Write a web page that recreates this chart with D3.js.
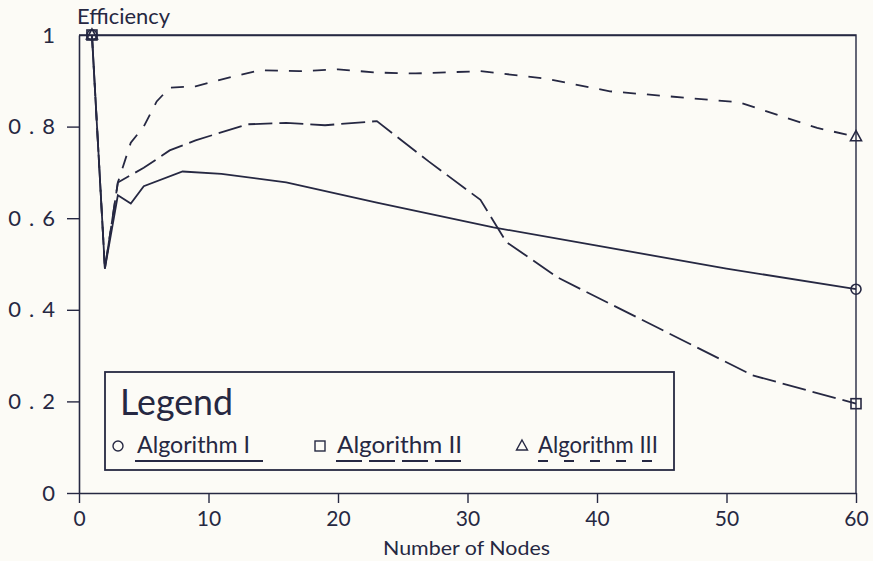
<!DOCTYPE html>
<html>
<head>
<meta charset="utf-8">
<script src="https://cdn.jsdelivr.net/npm/d3@7"></script>
<style>
  html, body { margin: 0; padding: 0; background: #fcfbf6; }
  svg { display: block; }
  text { font-family: "Lato", "Roboto", "DejaVu Sans", sans-serif; font-weight: 400; fill: #262842; }
</style>
</head>
<body>
<svg id="chart" width="873" height="561"></svg>
<script>
// values
const alg1Nodes = [1, 2, 3, 4, 5, 8, 11, 16, 23, 32, 40, 50, 60];
const alg1Eff   = [1.0, 0.49, 0.65, 0.632, 0.67, 0.702, 0.697, 0.678, 0.634, 0.58, 0.54, 0.49, 0.445];

const alg2Nodes = [1, 2, 3, 5, 7, 9, 13, 16, 19, 23, 27, 31, 33, 37, 52, 60];
const alg2Eff   = [1.0, 0.49, 0.678, 0.71, 0.748, 0.77, 0.805, 0.808, 0.803, 0.812, 0.724, 0.64, 0.548, 0.47, 0.257, 0.195];

const alg3Nodes = [1, 2, 3, 4, 5, 6, 7, 9, 12, 14, 17, 20, 23, 26, 31, 36, 41, 51, 57, 60];
const alg3Eff   = [1.0, 0.49, 0.678, 0.765, 0.80, 0.855, 0.885, 0.888, 0.91, 0.923, 0.921, 0.925, 0.918, 0.916, 0.921, 0.905, 0.877, 0.853, 0.797, 0.778];

const seriesNames = ["Algorithm I", "Algorithm II", "Algorithm III"];
const markerShapes = ["circle", "square", "triangle"];
const xTicks = [0, 10, 20, 30, 40, 50, 60];
const yTicks = [0, 0.2, 0.4, 0.6, 0.8, 1];

const ink = "#262842";
const svg = d3.select("#chart");

const x = d3.scaleLinear().domain([0, 60]).range([79, 856]);
const y = d3.scaleLinear().domain([0, 1]).range([493, 35]);

// plot frame (top and right sides)
svg.append("path")
    .attr("d", `M${x(0)},${y(1)}H${x(60)}V${y(0)}`)
    .attr("fill", "none")
    .attr("stroke", ink)
    .attr("stroke-width", 1.4);

const yAxis = d3.axisLeft(y)
    .tickValues(yTicks)
    .tickSize(12)
    .tickSizeOuter(0)
    .tickPadding(12)
    .tickFormat(d => d === 0 || d === 1 ? d3.format("d")(d) : d3.format(".1f")(d));

const gy = svg.append("g")
    .attr("transform", `translate(${x(0)},0)`)
    .call(yAxis);
gy.selectAll("text")
    .attr("font-size", 22)
    .attr("letter-spacing", "8px")
    .attr("dx", "8px")
    .attr("font-family", null);

const xAxis = d3.axisBottom(x)
    .tickValues(xTicks)
    .tickSize(10)
    .tickSizeOuter(0)
    .tickPadding(8);

const gx = svg.append("g")
    .attr("transform", `translate(0,${y(0)})`)
    .call(xAxis);
gx.selectAll("text")
    .attr("font-size", 21)
    .attr("font-family", null);

[gx, gy].forEach(g => {
    g.select(".domain").attr("stroke", ink).attr("stroke-width", 1.6);
    g.selectAll(".tick line").attr("stroke", ink).attr("stroke-width", 1.4);
    g.selectAll(".tick text").attr("fill", ink);
});
gy.selectAll(".tick")
    .filter(d => d === 1)
    .select("line")
    .attr("x2", x(60) - x(0));

// axis titles
svg.append("text")
    .attr("x", 77)
    .attr("y", 24)
    .attr("font-size", 21)
    .attr("textLength", 93)
    .attr("lengthAdjust", "spacingAndGlyphs")
    .text("Efficiency");

svg.append("text")
    .attr("x", 383)
    .attr("y", 555)
    .attr("font-size", 19)
    .attr("textLength", 167)
    .attr("lengthAdjust", "spacingAndGlyphs")
    .text("Number of Nodes");

// lines
const series = [
    { nodes: alg1Nodes, eff: alg1Eff, dash: null },
    { nodes: alg2Nodes, eff: alg2Eff, dash: "24,7" },
    { nodes: alg3Nodes, eff: alg3Eff, dash: "13,11" }
];

const line = d3.line()
    .x(d => x(d[0]))
    .y(d => y(d[1]));

function drawMarker(g, shape, cx, cy) {
    if (shape === "circle") {
        g.append("circle").attr("cx", cx).attr("cy", cy).attr("r", 5);
    } else if (shape === "square") {
        g.append("rect").attr("x", cx - 5).attr("y", cy - 5).attr("width", 10).attr("height", 10);
    } else {
        g.append("path").attr("d", `M${cx},${cy - 6}L${cx + 5.5},${cy + 4}L${cx - 5.5},${cy + 4}Z`);
    }
}

series.forEach((s, i) => {
    const pts = s.nodes.map((n, j) => [n, s.eff[j]]);
    svg.append("path")
        .datum(pts)
        .attr("fill", "none")
        .attr("stroke", ink)
        .attr("stroke-width", 1.8)
        .attr("stroke-dasharray", s.dash)
        .attr("d", line);

    const mg = svg.append("g")
        .attr("fill", "none")
        .attr("stroke", ink)
        .attr("stroke-width", 1.6);
    [pts[0], pts[pts.length - 1]].forEach(p => drawMarker(mg, markerShapes[i], x(p[0]), y(p[1])));
});

// legend
const legend = svg.append("g");
legend.append("rect")
    .attr("x", 105)
    .attr("y", 372)
    .attr("width", 569)
    .attr("height", 98)
    .attr("fill", "#fcfbf6")
    .attr("stroke", ink)
    .attr("stroke-width", 1.8);

legend.append("text")
    .attr("x", 120)
    .attr("y", 415)
    .attr("font-size", 37)
    .attr("font-weight", 300)
    .attr("textLength", 113)
    .attr("lengthAdjust", "spacingAndGlyphs")
    .text("Legend");

const legendItems = [
    { mx: 118, tx: 137, tw: 113, ux1: 135, ux2: 263, dash: null },
    { mx: 320, tx: 337, tw: 125, ux1: 336, ux2: 464, dash: "26,7" },
    { mx: 522, tx: 538, tw: 120, ux1: 538, ux2: 658, dash: "10,16" }
];

legendItems.forEach((it, i) => {
    const mg = legend.append("g")
        .attr("fill", "none")
        .attr("stroke", ink)
        .attr("stroke-width", 1.4);
    drawMarker(mg, markerShapes[i], it.mx, 446);
    legend.append("text")
        .attr("x", it.tx)
        .attr("y", 453)
        .attr("font-size", 23)
        .attr("textLength", it.tw)
        .attr("lengthAdjust", "spacingAndGlyphs")
        .text(seriesNames[i]);
    legend.append("line")
        .attr("x1", it.ux1)
        .attr("x2", it.ux2)
        .attr("y1", 461)
        .attr("y2", 461)
        .attr("stroke", ink)
        .attr("stroke-width", 1.8)
        .attr("stroke-dasharray", it.dash);
});
</script>
</body>
</html>
